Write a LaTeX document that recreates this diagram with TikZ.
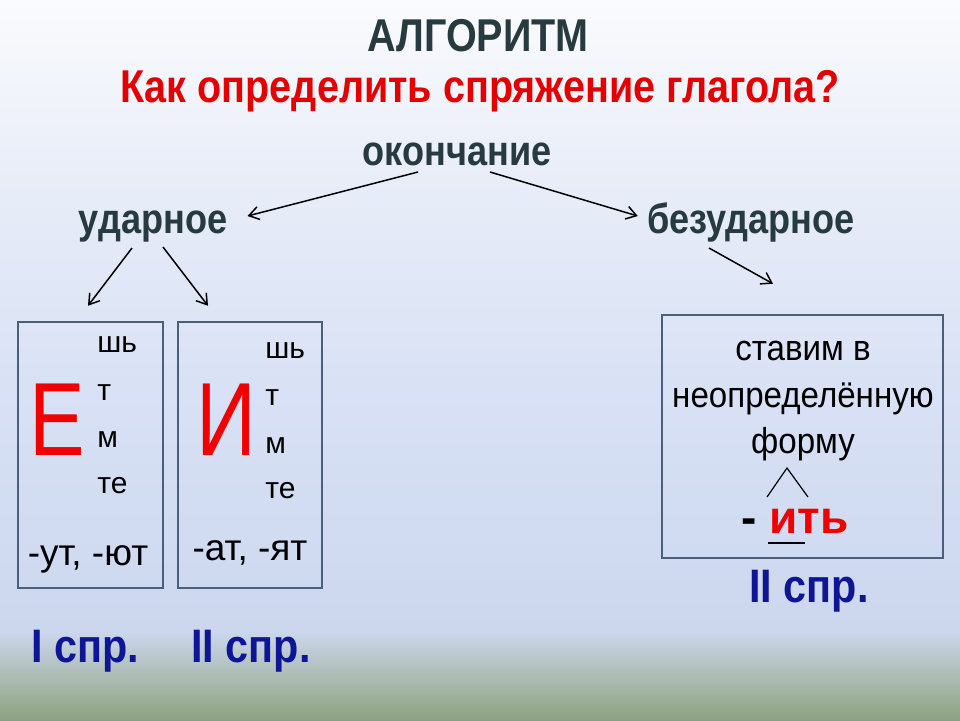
\documentclass[tikz,border=0pt]{standalone}
\usepackage{fontspec}
\setmainfont{Liberation Sans}
\newfontfamily\headfont[FakeStretch=0.86]{Liberation Sans}
\newfontfamily\notefont[FakeStretch=0.92]{Liberation Sans}
\newfontfamily\sprfont[FakeStretch=0.88]{Liberation Sans}
\newfontfamily\bigfont[FakeStretch=0.8]{Liberation Sans}
\usetikzlibrary{arrows.meta, positioning, calc}
\definecolor{slate}{RGB}{38,58,64}
\definecolor{titlered}{RGB}{228,0,0}
\definecolor{letterred}{RGB}{240,0,0}
\definecolor{sprblue}{RGB}{14,22,150}
\definecolor{boxline}{RGB}{75,95,125}
\definecolor{bgtop}{RGB}{250,251,253}
\definecolor{bghigh}{RGB}{232,237,248}
\definecolor{bgmid}{RGB}{216,225,245}
\definecolor{bglow}{RGB}{204,215,238}
\definecolor{bggreen}{RGB}{170,186,176}
\definecolor{bgbot}{RGB}{140,162,128}
% tikz fits the path to the 25bp--75bp band of the shading
\pgfdeclareverticalshading{slidebg}{100bp}{color(0bp)=(bgbot); color(25bp)=(bgbot); color(27.8bp)=(bggreen); color(31.2bp)=(bglow); color(47.5bp)=(bgmid); color(62.5bp)=(bghigh); color(75bp)=(bgtop); color(100bp)=(bgtop)}

\begin{document}
\begin{tikzpicture}[
  x=0.5pt, y=-0.5pt,
  every node/.style={inner sep=0pt, anchor=base},
  head/.style={font=\headfont\fontsize{23}{27}\selectfont\bfseries, text=slate},
  branch/.style={font=\headfont\fontsize{21}{25}\selectfont\bfseries, text=slate},
  frame/.style={draw=boxline, line width=1.25pt, anchor=center},
  ending/.style={font=\fontsize{15}{18}\selectfont, anchor=base west},
  bigletter/.style={font=\bigfont\fontsize{52}{56}\selectfont, text=letterred},
  suffix/.style={font=\fontsize{18.5}{22}\selectfont},
  note/.style={font=\notefont\fontsize{18}{22}\selectfont},
  spr/.style={font=\sprfont\fontsize{23.5}{28}\selectfont\bfseries, text=sprblue},
  arr/.style={-{Straight Barb[length=5pt, width=6.5pt]}, line width=0.75pt},
]
\useasboundingbox (0,0) rectangle (960,720);
\fill[shading=slidebg] (0,0) rectangle (960,720);

% title
\node[head] (title) at (478,51) {АЛГОРИТМ};
\node[head, text=titlered] (question) at (480,102) {Как определить спряжение глагола?};

% tree
\node[branch] (okon) at (457,165) {окончание};
\node[branch] (udar) at (153,233) {ударное};
\node[branch] (bez) at (751,233) {безударное};

% boxes
\node[frame, minimum width=72.5pt, minimum height=133pt] (boxe) at (90.5,455) {};
\node[frame, minimum width=72pt, minimum height=133pt] (boxi) at (250,455) {};
\node[frame, minimum width=140.5pt, minimum height=121.5pt] (boxinf) at (802.5,436.5) {};

\node[bigletter] (bige) at (57,455) {Е};
\foreach \t/\y [count=\i] in {шь/352, т/400, м/447, те/493}
  \node[ending] (ea\i) at (97,\y) {\t};
\node[suffix] (ute) at (88,565) {-ут, -ют};

\node[bigletter] (bigi) at (226,455) {И};
\foreach \t/\y [count=\i] in {шь/358, т/405, м/453, те/498}
  \node[ending] (ib\i) at (265,\y) {\t};
\node[suffix] (ati) at (250,560) {-ат, -ят};

\node[note] (inf1) at (803,360) {ставим в};
\node[note] (inf2) at (803,407) {неопределённую};
\node[note] (inf3) at (803,453) {форму};
\node[font=\fontsize{23}{27}\selectfont\bfseries] (itj) at (795,533) {- \textcolor{letterred}{ить}};
\draw[line width=0.6pt] (767,497) -- (787,468) -- (808,497);
\draw[line width=1.3pt] (768,543) -- (805,543);

% conjugations
\node[spr] (spr1) at (85,662) {I спр.};
\node[spr] (spr2) at (251,662) {II спр.};
\node[spr] (spr3) at (809,602) {II спр.};

% arrows
\draw[arr] ([shift={(-39,7)}]okon.base) -- ([shift={(20,-17)}]udar.base east);
\draw[arr] ([shift={(33,7)}]okon.base) -- ([shift={(-9,-17)}]bez.base west);
\draw[arr] ([shift={(-21,15)}]udar.base) -- ([shift={(-2.5,-15)}]boxe.north);
\draw[arr] ([shift={(10,14)}]udar.base) -- ([shift={(-42,-15)}]boxi.north);
\draw[arr] ([shift={(-42,15)}]bez.base) -- ([shift={(-29.5,-30)}]boxinf.north);
\end{tikzpicture}
\end{document}
